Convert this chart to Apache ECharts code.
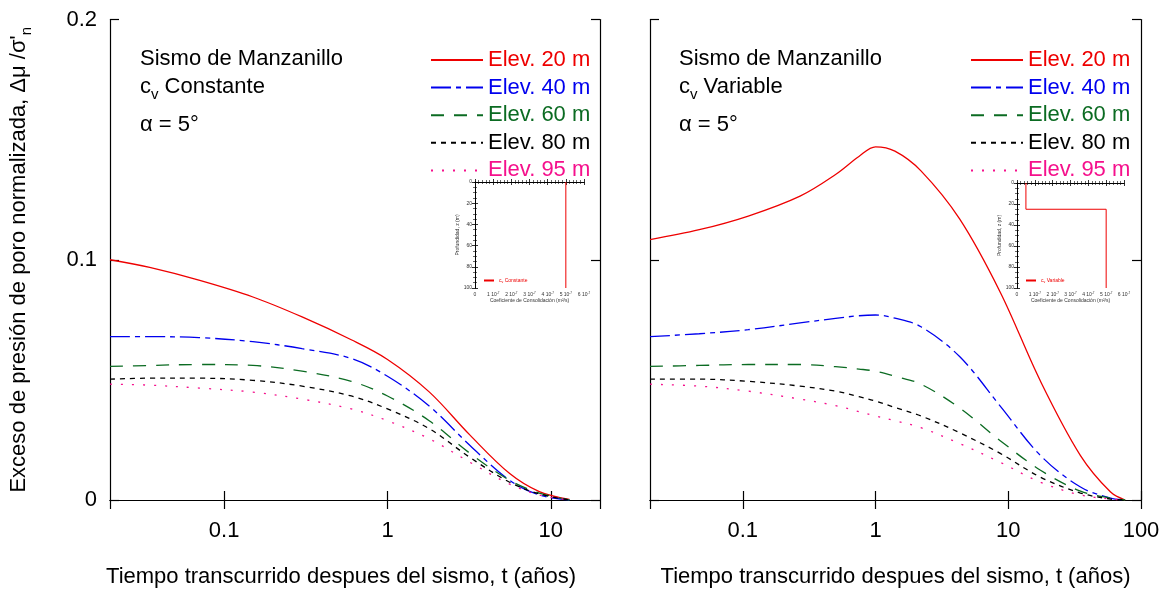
<!DOCTYPE html>
<html>
<head>
<meta charset="utf-8">
<script src="https://cdn.jsdelivr.net/npm/echarts@6/dist/echarts.min.js"></script>
<style>
  html, body { margin: 0; padding: 0; background: #fff; }
  #chart { width: 1169px; height: 593px; }
</style>
</head>
<body>
<div id="chart"></div>
<script>
// ---- Data: normalized excess pore pressure vs. time after the earthquake ----
// Left panel: constant consolidation coefficient
const tConst = [0.02, 0.035, 0.07, 0.15, 0.3, 0.6, 1, 1.8, 3.2, 5.6, 8.5, 13];
const constElev20 = [0.100, 0.0968, 0.0915, 0.0845, 0.0762, 0.0667, 0.0585, 0.0450, 0.0270, 0.0110, 0.0035, 0.0003];
const constElev40 = [0.0680, 0.0680, 0.0676, 0.0659, 0.0630, 0.0589, 0.0515, 0.0391, 0.0227, 0.0082, 0.0021, 0.0];
const constElev60 = [0.0556, 0.0560, 0.0564, 0.0560, 0.0536, 0.0494, 0.0433, 0.0330, 0.0194, 0.0082, 0.0029, 0.0];
const constElev80 = [0.0503, 0.0507, 0.0507, 0.0498, 0.0474, 0.0433, 0.0379, 0.0297, 0.0177, 0.0074, 0.0025, 0.0];
const constElev95 = [0.0482, 0.0478, 0.0466, 0.0449, 0.0420, 0.0379, 0.0330, 0.0255, 0.0157, 0.0066, 0.0021, 0.0];

// Right panel: variable consolidation coefficient
const tVar = [0.02, 0.047, 0.11, 0.27, 0.5, 0.75, 1, 1.4, 2.2, 4.3, 8.7, 17.5, 35, 59, 76];
const varElev20 = [0.1084, 0.1125, 0.1182, 0.1265, 0.1355, 0.1430, 0.1470, 0.1452, 0.1370, 0.1170, 0.0865, 0.0494, 0.0185, 0.0033, 0.0];
const varElev40 = [0.0680, 0.0692, 0.0709, 0.0737, 0.0756, 0.0767, 0.0770, 0.0757, 0.0721, 0.0597, 0.0391, 0.0185, 0.0054, 0.0008, 0.0];
const varElev60 = [0.0556, 0.0560, 0.0564, 0.0564, 0.0555, 0.0545, 0.0536, 0.0515, 0.0482, 0.0383, 0.0247, 0.0124, 0.0037, 0.0008, 0.0];
const varElev80 = [0.0503, 0.0503, 0.0494, 0.0474, 0.0453, 0.0430, 0.0412, 0.0385, 0.0350, 0.0280, 0.0194, 0.0095, 0.0029, 0.0004, 0.0];
const varElev95 = [0.0482, 0.0474, 0.0453, 0.0420, 0.0393, 0.0368, 0.0350, 0.0330, 0.0301, 0.0235, 0.0157, 0.0074, 0.0021, 0.0004, 0.0];

const seriesNames = ['Elev. 20 m', 'Elev. 40 m', 'Elev. 60 m', 'Elev. 80 m', 'Elev. 95 m'];

// Insets: consolidation coefficient profile with depth
const cvConstX = [5, 5];
const cvConstZ = [0, 100];
const cvVarX = [0.5, 0.5, 5, 5];
const cvVarZ = [0, 25, 25, 100];

// ---- Styling ----
const FONT = '"Liberation Sans", Arial, sans-serif';
const lineStyles = [
  { color: '#ee0000', type: 'solid' },
  { color: '#0000ee', type: [20, 5, 5, 5] },
  { color: '#0b6b22', type: [13, 10] },
  { color: '#000000', type: [5, 5] },
  { color: '#f5108c', type: [2, 9] }
];
const textColors = ['#ee0000', '#0000ee', '#0b6b22', '#000000', '#f5108c'];

const pairs = (xs, ys) => xs.map((x, i) => [x, ys[i]]);

function logLabel(v) { return String(+Number(v).toPrecision(3)); }

// Main panel axes (bottom/left with labels, top/right mirrored for ticks)
function mainXAxes(gridIndex, max) {
  const common = {
    type: 'log', logBase: 10, min: 0.02, max: max, gridIndex: gridIndex,
    axisLine: { show: true, lineStyle: { color: '#000', width: 1.2 } },
    axisTick: { show: true, inside: true, length: 9, lineStyle: { color: '#000', width: 1.2 } },
    minorTick: { show: false }, splitLine: { show: false }
  };
  return [
    Object.assign({}, common, {
      position: 'bottom',
      axisLabel: { show: true, margin: 20, fontSize: 22, color: '#000', fontFamily: FONT,
        showMinLabel: false, showMaxLabel: max >= 100, formatter: logLabel },
      name: 'Tiempo transcurrido despues del sismo, t (años)',
      nameLocation: 'middle', nameGap: 66,
      nameTextStyle: { fontSize: 22, color: '#000', fontFamily: FONT,
        padding: gridIndex === 0 ? [0, 28, 0, 0] : [0, 0, 0, 0] }
    }),
    Object.assign({}, common, { position: 'top', axisLabel: { show: false } })
  ];
}

function mainYAxes(gridIndex, withLabels) {
  const common = {
    type: 'value', min: 0, max: 0.2, interval: 0.1, gridIndex: gridIndex,
    axisLine: { show: true, lineStyle: { color: '#000', width: 1.2 } },
    axisTick: { show: true, inside: true, length: 9, lineStyle: { color: '#000', width: 1.2 } },
    splitLine: { show: false }
  };
  const left = Object.assign({}, common, {
    position: 'left',
    axisLabel: { show: withLabels, margin: 13, fontSize: 22, color: '#000', fontFamily: FONT }
  });
  if (withLabels) {
    left.name = '{a|Exceso de presión de poro normalizada, Δμ /σ\'}{b|n}';
    left.nameLocation = 'middle';
    left.nameGap = 76;
    left.nameTextStyle = {
      color: '#000', fontFamily: FONT,
      rich: {
        a: { fontSize: 22, fontFamily: FONT, color: '#000', lineHeight: 26 },
        b: { fontSize: 15, fontFamily: FONT, color: '#000', padding: [16, 0, 0, 0] }
      }
    };
  }
  return [left, Object.assign({}, common, { position: 'right', axisLabel: { show: false } })];
}

// Inset axes
function insetXAxes(gridIndex) {
  const common = {
    type: 'value', min: 0, max: 6, interval: 1, gridIndex: gridIndex,
    axisLine: { show: true, lineStyle: { color: '#000', width: 1 } },
    axisTick: { show: true, inside: true, length: 3, lineStyle: { color: '#000', width: 0.8 } },
    minorTick: { show: true, splitNumber: 5, length: 2, lineStyle: { color: '#000', width: 0.6 } },
    splitLine: { show: false }
  };
  return [
    Object.assign({}, common, {
      position: 'bottom',
      axisLabel: {
        show: true, margin: 4, fontSize: 5, color: '#333', fontFamily: FONT,
        formatter: v => v === 0 ? '0' : '{m|' + v + ' 10}{e|-7}',
        rich: { m: { fontSize: 5, color: '#333' }, e: { fontSize: 3, color: '#333', padding: [0, 0, 3, 0] } }
      },
      name: 'Coeficiente de Consolidación (m²/s)',
      nameLocation: 'middle', nameGap: 9,
      nameTextStyle: { fontSize: 5, color: '#333', fontFamily: FONT }
    }),
    Object.assign({}, common, { position: 'top', axisLabel: { show: false } })
  ];
}

function insetYAxes(gridIndex) {
  const common = {
    type: 'value', min: 0, max: 100, interval: 20, inverse: true, gridIndex: gridIndex,
    axisLine: { show: true, lineStyle: { color: '#000', width: 1 } },
    axisTick: { show: true, inside: true, length: 3, lineStyle: { color: '#000', width: 0.8 } },
    minorTick: { show: true, splitNumber: 4, length: 2, lineStyle: { color: '#000', width: 0.6 } },
    splitLine: { show: false }
  };
  return [
    Object.assign({}, common, {
      position: 'left',
      axisLabel: { show: true, margin: 3, fontSize: 5, color: '#333', fontFamily: FONT },
      name: 'Profundidad, z (m)', nameLocation: 'middle', nameGap: 10,
      nameTextStyle: { fontSize: 5, color: '#333', fontFamily: FONT }
    }),
    Object.assign({}, common, { position: 'right', axisLabel: { show: false } })
  ];
}

const grids = [
  { left: 110, top: 19.5, width: 490, height: 485.5 },
  { left: 650, top: 19.5, width: 491, height: 485.5 },
  { left: 475, top: 182, width: 109, height: 106, backgroundColor: '#fff', show: true, borderWidth: 0 },
  { left: 1017, top: 183, width: 107, height: 105, backgroundColor: '#fff', show: true, borderWidth: 0 }
];

const xAxes = [].concat(mainXAxes(0, 20), mainXAxes(1, 100), insetXAxes(2), insetXAxes(3));
const yAxes = [].concat(mainYAxes(0, true), mainYAxes(1, false), insetYAxes(2), insetYAxes(3));

function curveSeries(name, idx, xAxisIndex, yAxisIndex, ts, vals) {
  return {
    type: 'line', name: name, xAxisIndex: xAxisIndex, yAxisIndex: yAxisIndex,
    data: pairs(ts, vals), smooth: 0.35, symbol: 'none', silent: true,
    lineStyle: { color: lineStyles[idx].color, type: lineStyles[idx].type, width: 1.3 },
    itemStyle: { color: lineStyles[idx].color },
    z: 3
  };
}

const constSets = [constElev20, constElev40, constElev60, constElev80, constElev95];
const varSets = [varElev20, varElev40, varElev60, varElev80, varElev95];

const series = [];
constSets.forEach((vals, i) => series.push(curveSeries(seriesNames[i], i, 0, 0, tConst, vals)));
varSets.forEach((vals, i) => series.push(curveSeries(seriesNames[i], i, 2, 2, tVar, vals)));

series.push({
  type: 'line', name: 'cv Constante', xAxisIndex: 4, yAxisIndex: 4,
  data: pairs(cvConstX, cvConstZ), symbol: 'none', silent: true,
  lineStyle: { color: '#ee0000', width: 1 }, itemStyle: { color: '#ee0000' }, z: 5
});
series.push({
  type: 'line', name: 'cv Variable', xAxisIndex: 6, yAxisIndex: 6,
  data: pairs(cvVarX, cvVarZ), symbol: 'none', silent: true,
  lineStyle: { color: '#ee0000', width: 1 }, itemStyle: { color: '#ee0000' }, z: 5
});

function mainLegend(left) {
  return {
    orient: 'vertical', left: left, top: 44, selectedMode: false,
    itemWidth: 52, itemHeight: 20, itemGap: 5.6,
    itemStyle: { opacity: 0 },
    data: seriesNames.map((n, i) => ({ name: n, textStyle: { color: textColors[i] } })),
    textStyle: { fontSize: 22, fontFamily: FONT, padding: [0, 0, 0, 0] }
  };
}

function insetLegend(left, top, name, word) {
  return {
    orient: 'vertical', left: left, top: top, selectedMode: false,
    itemWidth: 10, itemHeight: 5, itemGap: 0,
    itemStyle: { opacity: 0 },
    data: [name],
    formatter: () => '{c|c}{v|v}{c| ' + word + '}',
    textStyle: {
      fontSize: 5, color: '#ee0000', fontFamily: FONT,
      rich: { c: { fontSize: 5, color: '#ee0000' }, v: { fontSize: 3.5, color: '#ee0000', padding: [3, 0, 0, 0] } }
    }
  };
}

function panelNote(left, word) {
  const rich = {
    t: { fontSize: 22, fontFamily: FONT, fill: '#000' },
    s: { fontSize: 15, fontFamily: FONT, fill: '#000', padding: [16, 0, 0, 0] }
  };
  return [
    { type: 'text', left: left, top: 48, style: { text: 'Sismo de Manzanillo', font: '22px ' + FONT, fill: '#000' } },
    { type: 'text', left: left, top: 76, style: { text: '{t|c}{s|v}{t| ' + word + '}', rich: rich, font: '22px ' + FONT, fill: '#000' } },
    { type: 'text', left: left, top: 114, style: { text: 'α = 5°', font: '22px ' + FONT, fill: '#000' } }
  ];
}

const chart = echarts.init(document.getElementById('chart'), null, { renderer: 'canvas' });
chart.setOption({
  backgroundColor: '#fff',
  animation: false,
  grid: grids,
  xAxis: xAxes,
  yAxis: yAxes,
  legend: [
    mainLegend(425),
    mainLegend(965),
    insetLegend(478, 273, 'cv Constante', 'Constante'),
    insetLegend(1020, 273, 'cv Variable', 'Variable')
  ],
  graphic: [].concat(panelNote(140, 'Constante'), panelNote(679, 'Variable')),
  series: series
});
</script>
</body>
</html>
